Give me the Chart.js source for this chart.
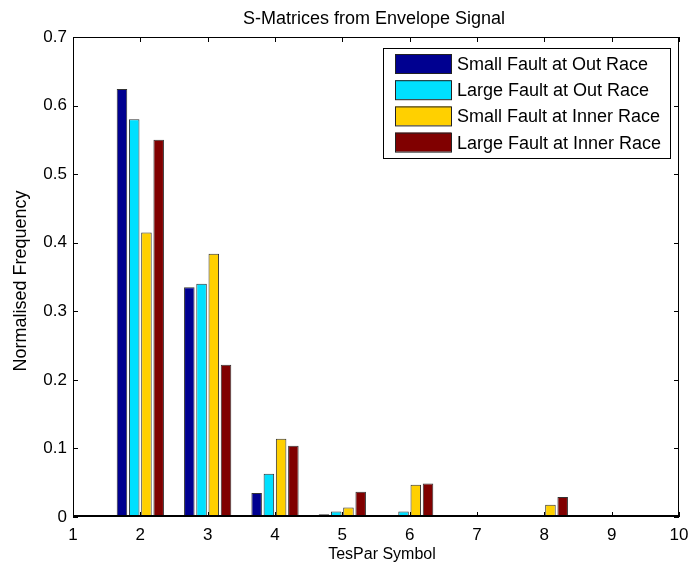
<!DOCTYPE html>
<html>
<head>
<meta charset="utf-8">
<script src="https://cdn.jsdelivr.net/npm/chart.js@4/dist/chart.umd.min.js"></script>
<style>
  html, body { margin: 0; padding: 0; background: #fff; }
  #wrap { width: 690px; height: 567px; }
</style>
</head>
<body>
<div id="wrap"><canvas id="chart" width="690" height="567"></canvas></div>
<script>
// ---- data ----
const symbols = ['1', '2', '3', '4', '5', '6', '7', '8', '9', '10'];

const smallOut   = [0, 0.624, 0.335, 0.035, 0.004, 0.0025, 0, 0.0005, 0, 0];
const largeOut   = [0, 0.580, 0.340, 0.063, 0.008, 0.008,  0, 0.002,  0, 0];
const smallInner = [0, 0.415, 0.384, 0.114, 0.014, 0.047,  0, 0.018,  0, 0];
const largeInner = [0, 0.550, 0.222, 0.104, 0.037, 0.049,  0, 0.029,  0, 0];

const seriesNames  = ['Small Fault at Out Race', 'Large Fault at Out Race',
                      'Small Fault at Inner Race', 'Large Fault at Inner Race'];
const seriesColors = ['#000090', '#00E0FF', '#FFD000', '#800000'];

const yTicks = [0, 0.1, 0.2, 0.3, 0.4, 0.5, 0.6, 0.7];

const FONT = "'Liberation Sans', Arial, Helvetica, sans-serif";

// draws the MATLAB-like box, inward ticks, legend and titles
const matlabFrame = {
  id: 'matlabFrame',
  afterDraw(chart) {
    const { ctx, chartArea: a, scales: { x, y } } = chart;
    ctx.save();
    ctx.strokeStyle = '#000';
    ctx.lineWidth = 1;

    // box
    ctx.strokeRect(Math.round(a.left) + 0.5, Math.round(a.top) + 0.5,
                   Math.round(a.width) - 1, Math.round(a.height) - 1);
    ctx.lineWidth = 2;
    ctx.beginPath();
    ctx.moveTo(a.left, Math.round(a.bottom) - 1);
    ctx.lineTo(a.right, Math.round(a.bottom) - 1);
    ctx.stroke();

    // inward ticks
    ctx.lineWidth = 1;
    ctx.beginPath();
    x.ticks.forEach((t, i) => {
      const px = Math.round(x.getPixelForTick(i)) + 0.5;
      ctx.moveTo(px, a.bottom); ctx.lineTo(px, a.bottom - 5);
      ctx.moveTo(px, a.top);    ctx.lineTo(px, a.top + 5);
    });
    y.ticks.forEach((t, i) => {
      const py = Math.round(y.getPixelForTick(i)) + 0.5;
      ctx.moveTo(a.left, py);  ctx.lineTo(a.left + 5, py);
      ctx.moveTo(a.right, py); ctx.lineTo(a.right - 5, py);
    });
    ctx.stroke();

    // legend box
    const lx = 383, ly = 48, lw = 287, lh = 110;
    ctx.fillStyle = '#fff';
    ctx.fillRect(lx, ly, lw, lh);
    ctx.strokeRect(lx + 0.5, ly + 0.5, lw, lh);
    ctx.font = '18px ' + FONT;
    ctx.textBaseline = 'alphabetic';
    ctx.textAlign = 'left';
    chart.data.datasets.forEach((ds, i) => {
      const ry = 54 + i * 26.2;
      ctx.fillStyle = ds.backgroundColor;
      ctx.fillRect(395, ry, 56, 19);
      ctx.strokeStyle = '#222';
      ctx.strokeRect(395.5, ry + 0.5, 56, 19);
      ctx.fillStyle = '#000';
      ctx.fillText(ds.label, 457, ry + 16);
    });

    // titles
    ctx.fillStyle = '#000';
    ctx.textAlign = 'center';
    ctx.font = '18px ' + FONT;
    ctx.fillText('S-Matrices from Envelope Signal', 374, 24);
    ctx.font = '16px ' + FONT;
    ctx.fillText('TesPar Symbol', 382, 559);
    ctx.font = '18px ' + FONT;
    ctx.translate(26, 281);
    ctx.rotate(-Math.PI / 2);
    ctx.fillText('Normalised Frequency', 0, 0);
    ctx.restore();
  }
};

const seriesData = [smallOut, largeOut, smallInner, largeInner];

new Chart(document.getElementById('chart'), {
  type: 'bar',
  data: {
    labels: symbols,
    datasets: seriesData.map((d, i) => ({
      label: seriesNames[i],
      data: d,
      backgroundColor: seriesColors[i],
      borderColor: '#333',
      borderWidth: 1,
      categoryPercentage: 0.727,
      barPercentage: 0.86,
    })),
  },
  options: {
    responsive: false,
    animation: false,
    devicePixelRatio: 1,
    layout: { padding: { left: 0, right: 11, top: 37, bottom: 0 } },
    plugins: {
      legend: { display: false },
      title: { display: false },
      tooltip: { enabled: false },
    },
    scales: {
      x: {
        offset: false,
        grid: { display: false, offset: false, drawTicks: false },
        border: { display: false },
        ticks: { color: '#000', font: { family: FONT, size: 17 }, padding: 8, autoSkip: false, maxRotation: 0 },
        afterFit: s => { s.height = 50; s.paddingLeft = 0; s.paddingRight = 0; },
      },
      y: {
        min: 0, max: 0.7,
        afterBuildTicks: s => { s.ticks = yTicks.map(v => ({ value: v })); },
        grid: { display: false, drawTicks: false },
        border: { display: false },
        ticks: { color: '#000', font: { family: FONT, size: 17 }, padding: 6 },
        afterFit: s => { s.width = 73; s.paddingTop = 0; s.paddingBottom = 0; },
      },
    },
  },
  plugins: [matlabFrame],
});
</script>
</body>
</html>
